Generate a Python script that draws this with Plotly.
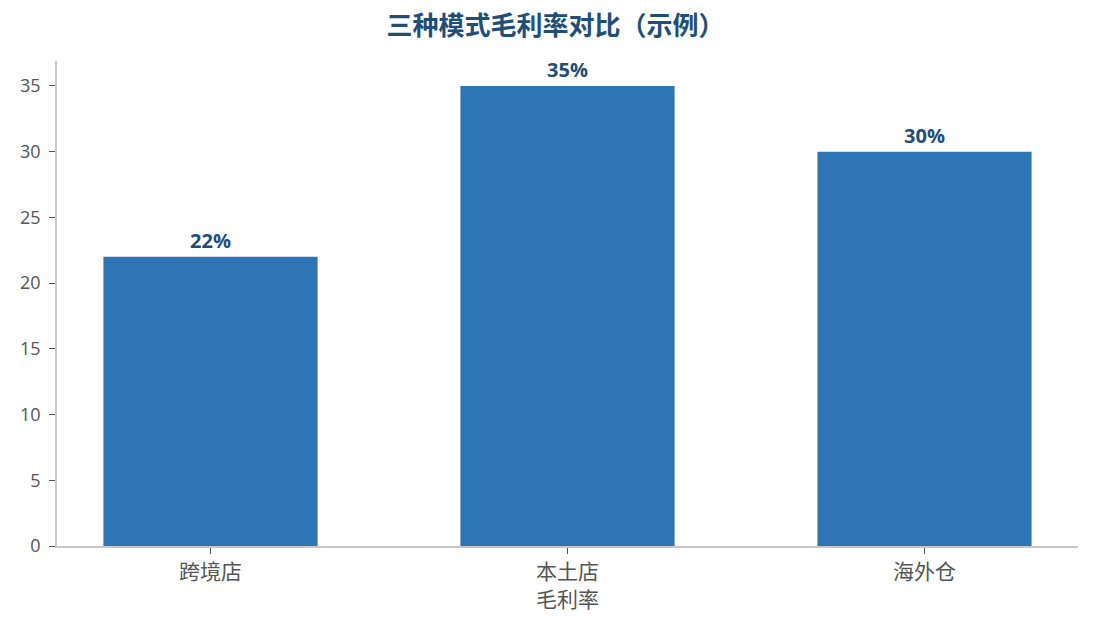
import plotly.graph_objects as go

categories = ["跨境店", "本土店", "海外仓"]
margins = [22, 35, 30]
labels = ["22%", "35%", "30%"]

FONT = "Open Sans, Noto Sans CJK SC, sans-serif"

fig = go.Figure(go.Bar(
    x=categories,
    y=margins,
    text=labels,
    textposition="outside",
    cliponaxis=False,
    textfont=dict(family=FONT, size=20, color="#1F4E79", weight="bold"),
    marker=dict(color="#2E75B6", line=dict(width=0)),
    width=0.6,
))

# page body adds an 8px offset, margins below account for that
fig.update_layout(
    width=1095, height=630,
    margin=dict(l=44, r=25, t=53, b=92),
    paper_bgcolor="white", plot_bgcolor="white",
    font=dict(family=FONT, size=18, color="#555555"),
    title=dict(text="<b>三种模式毛利率对比（示例）</b>", x=0.5, xanchor="center",
               y=0.972, yanchor="middle",
               font=dict(family=FONT, size=26, color="#1F4E79")),
    showlegend=False,
)
fig.update_xaxes(
    range=[-0.43, 2.43],
    tickfont=dict(size=21, color="#555555"),
    title=dict(text="毛利率", standoff=4, font=dict(size=21, color="#555555")),
    showline=True, linecolor="#C8C8C8", linewidth=1.5,
    ticks="outside", tickcolor="#555555", ticklen=6,
    showgrid=False,
)
fig.update_yaxes(
    range=[0, 36.9], dtick=5,
    tickfont=dict(size=18, color="#555555"),
    ticklabelstandoff=5,
    showline=True, linecolor="#C8C8C8", linewidth=1.5,
    ticks="outside", tickcolor="#555555", ticklen=6,
    showgrid=False, zeroline=False,
)

fig.write_html("out.html")
